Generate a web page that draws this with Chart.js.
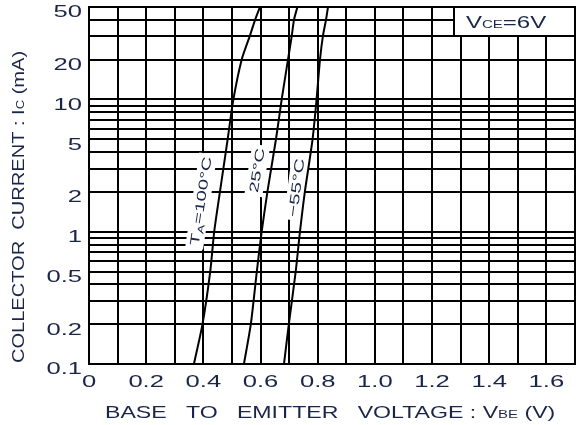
<!DOCTYPE html>
<html>
<head>
<meta charset="utf-8">
<script src="https://cdn.jsdelivr.net/npm/chart.js@4.4.1/dist/chart.umd.min.js"></script>
<style>
  html, body { margin: 0; padding: 0; background: #ffffff; }
  #wrap { width: 576px; height: 425px; position: relative; }
</style>
</head>
<body>
<div id="wrap"><canvas id="chart"></canvas></div>
<script>
const IC_MA = [0.1, 0.2, 0.5, 1, 2, 5, 10, 20, 30, 40, 50];
// Base-to-emitter voltage (V) for each ambient temperature, VCE = 6 V
const VBE_100C = [0.367, 0.397, 0.424, 0.438, 0.458, 0.485, 0.505, 0.534, 0.562, 0.581, 0.598];
const VBE_25C  = [0.542, 0.566, 0.587, 0.604, 0.624, 0.654, 0.674, 0.696, 0.709, 0.717, 0.729];
const VBE_M55C = [0.682, 0.699, 0.723, 0.738, 0.755, 0.782, 0.796, 0.808, 0.818, 0.829, 0.836];

// Grid positions and tick labels
const X_GRID = [0, 0.1, 0.2, 0.3, 0.4, 0.5, 0.6, 0.7, 0.8, 0.9, 1.0, 1.1, 1.2, 1.3, 1.4, 1.5, 1.6, 1.7];
const X_LABEL_VALUES = [0, 0.2, 0.4, 0.6, 0.8, 1.0, 1.2, 1.4, 1.6];
const X_TICK_LABELS = ['0', '0.2', '0.4', '0.6', '0.8', '1.0', '1.2', '1.4', '1.6'];
const Y_GRID = [0.1, 0.2, 0.3, 0.4, 0.5, 0.6, 0.7, 0.8, 0.9, 1, 2, 3, 4, 5, 6, 7, 8, 9, 10, 20, 30, 40, 50];
const Y_LABEL_VALUES = [0.1, 0.2, 0.5, 1, 2, 5, 10, 20, 50];
const Y_TICK_LABELS = ['0.1', '0.2', '0.5', '1', '2', '5', '10', '20', '50'];

const FONT = '"Liberation Sans", Arial, Helvetica, sans-serif';
const INK = '#1a2548';
const TICK_STRETCH = 1.6;

function labelFor(values, labels, v) {
  const i = values.findIndex(u => Math.abs(u - v) < 1e-9);
  return i >= 0 ? labels[i] : '';
}

function toPoints(vbe) {
  return IC_MA.map((ic, k) => ({ x: vbe[k], y: ic }));
}

// Draws a run of text pieces (mixed sizes / baseline shifts) with a wide face
function drawRuns(ctx, runs, x, y, opts) {
  const raw = ctx._rawFillText || ctx.fillText.bind(ctx);
  ctx.save();
  let w = 0;
  const parts = runs.map(r => {
    ctx.font = `${r.size}px ${FONT}`;
    const m = ctx.measureText(r.t).width;
    const p = { t: r.t, size: r.size, dy: r.dy || 0, x: w };
    w += m;
    return p;
  });
  ctx.translate(x, y);
  ctx.rotate(opts.angle || 0);
  ctx.scale(opts.sx || 1, 1);
  const off = opts.align === 'center' ? -w / 2 : 0;
  if (opts.box) {
    const b = opts.box;
    ctx.fillStyle = '#ffffff';
    ctx.fillRect(off - b.pad, -b.up, w + 2 * b.pad, b.up + b.down);
  }
  ctx.fillStyle = opts.color || INK;
  ctx.textAlign = 'left';
  ctx.textBaseline = 'alphabetic';
  parts.forEach(p => {
    ctx.font = `${p.size}px ${FONT}`;
    raw(p.t, off + p.x, p.dy);
  });
  ctx.restore();
  return w;
}

// Tick labels are drawn by the scales; widen their glyphs horizontally
const wideTicks = {
  id: 'wideTicks',
  beforeDraw(chart) {
    const ctx = chart.ctx;
    if (ctx._rawFillText) return;
    const raw = ctx.fillText.bind(ctx);
    ctx._rawFillText = raw;
    ctx.fillText = function (text, x, y) {
      ctx.save();
      ctx.translate(x, y);
      ctx.scale(TICK_STRETCH, 1);
      raw(text, 0, 0);
      ctx.restore();
    };
  }
};

// Temperature labels running along each curve, on a white backing
const CURVE_LABELS = [
  { runs: [{ t: 'T', size: 13 }, { t: 'A', size: 9, dy: 3 }, { t: '=100°C', size: 13 }], at: [0.383, 0.78], angle: -81.5 },
  { runs: [{ t: '25°C', size: 13 }], at: [0.590, 1.95], angle: -81 },
  { runs: [{ t: '\u221255°C', size: 13.5 }], at: [0.727, 1.28], angle: -82.5 }
];

const curveLabels = {
  id: 'curveLabels',
  beforeDatasetsDraw(chart) {
    const { ctx, scales: { x, y } } = chart;
    CURVE_LABELS.forEach(l => {
      drawRuns(ctx, l.runs, x.getPixelForValue(l.at[0]), y.getPixelForValue(l.at[1]), {
        angle: l.angle * Math.PI / 180, sx: 1.55,
        box: { pad: 2, up: 13, down: 5 }
      });
    });
  }
};

// Axis titles and the test-condition box
const annotations = {
  id: 'annotations',
  afterDatasetsDraw(chart) {
    const { ctx, chartArea: a } = chart;
    // condition box in the upper right corner
    const bx = a.right - 121, by = a.top, bw = 121, bh = 29;
    ctx.save();
    ctx.fillStyle = '#ffffff';
    ctx.fillRect(bx, by, bw, bh);
    ctx.strokeStyle = '#000000';
    ctx.lineWidth = 2;
    ctx.strokeRect(bx, by, bw, bh);
    ctx.restore();
    drawRuns(ctx, [{ t: 'V', size: 16 }, { t: 'CE', size: 10 }, { t: '=6V', size: 16 }], bx + 12, by + 21, { sx: 1.5 });

    // x-axis title
    drawRuns(ctx, [{ t: 'BASE   TO   EMITTER   VOLTAGE : V', size: 17 }, { t: 'BE', size: 11 }, { t: ' (V)', size: 17 }],
      105, 418, { sx: 1.36 });
    // y-axis title
    drawRuns(ctx, [{ t: 'COLLECTOR  CURRENT : I', size: 17 }, { t: 'C', size: 11 }, { t: ' (mA)', size: 17 }],
      24, 207, { angle: -Math.PI / 2, align: 'center', sx: 1.18 });
  }
};

const lineStyle = { borderColor: '#000000', borderWidth: 2, pointRadius: 0, showLine: true, tension: 0.25, fill: false };

new Chart(document.getElementById('chart'), {
  type: 'scatter',
  data: {
    datasets: [
      { label: 'TA=100°C', data: toPoints(VBE_100C), ...lineStyle },
      { label: '25°C', data: toPoints(VBE_25C), ...lineStyle },
      { label: '-55°C', data: toPoints(VBE_M55C), ...lineStyle }
    ]
  },
  options: {
    responsive: true,
    maintainAspectRatio: false,
    animation: false,
    events: [],
    layout: { padding: { top: 7, right: 1, bottom: 0, left: 0 } },
    plugins: { legend: { display: false }, tooltip: { enabled: false } },
    scales: {
      x: {
        type: 'linear',
        min: 0, max: 1.7,
        afterBuildTicks: s => { s.ticks = X_GRID.map(v => ({ value: v })); },
        afterFit: s => { s.height = 61; s.paddingLeft = 0; s.paddingRight = 0; },
        grid: { color: '#000000', lineWidth: 2, drawTicks: false },
        border: { color: '#000000', width: 2 },
        ticks: {
          autoSkip: false, maxRotation: 0, padding: 9, color: INK,
          font: { family: FONT, size: 16 },
          callback: v => labelFor(X_LABEL_VALUES, X_TICK_LABELS, v)
        }
      },
      y: {
        type: 'logarithmic',
        min: 0.1, max: 50,
        afterBuildTicks: s => { s.ticks = Y_GRID.map(v => ({ value: v })); },
        afterFit: s => { s.width = 89; s.paddingTop = 0; s.paddingBottom = 0; },
        grid: { color: '#000000', lineWidth: 2, drawTicks: false },
        border: { color: '#000000', width: 2 },
        ticks: {
          autoSkip: false, padding: 7, labelOffset: 6, color: INK,
          font: { family: FONT, size: 16 },
          callback: v => labelFor(Y_LABEL_VALUES, Y_TICK_LABELS, v)
        }
      }
    }
  },
  plugins: [wideTicks, curveLabels, annotations]
});
</script>
</body>
</html>
